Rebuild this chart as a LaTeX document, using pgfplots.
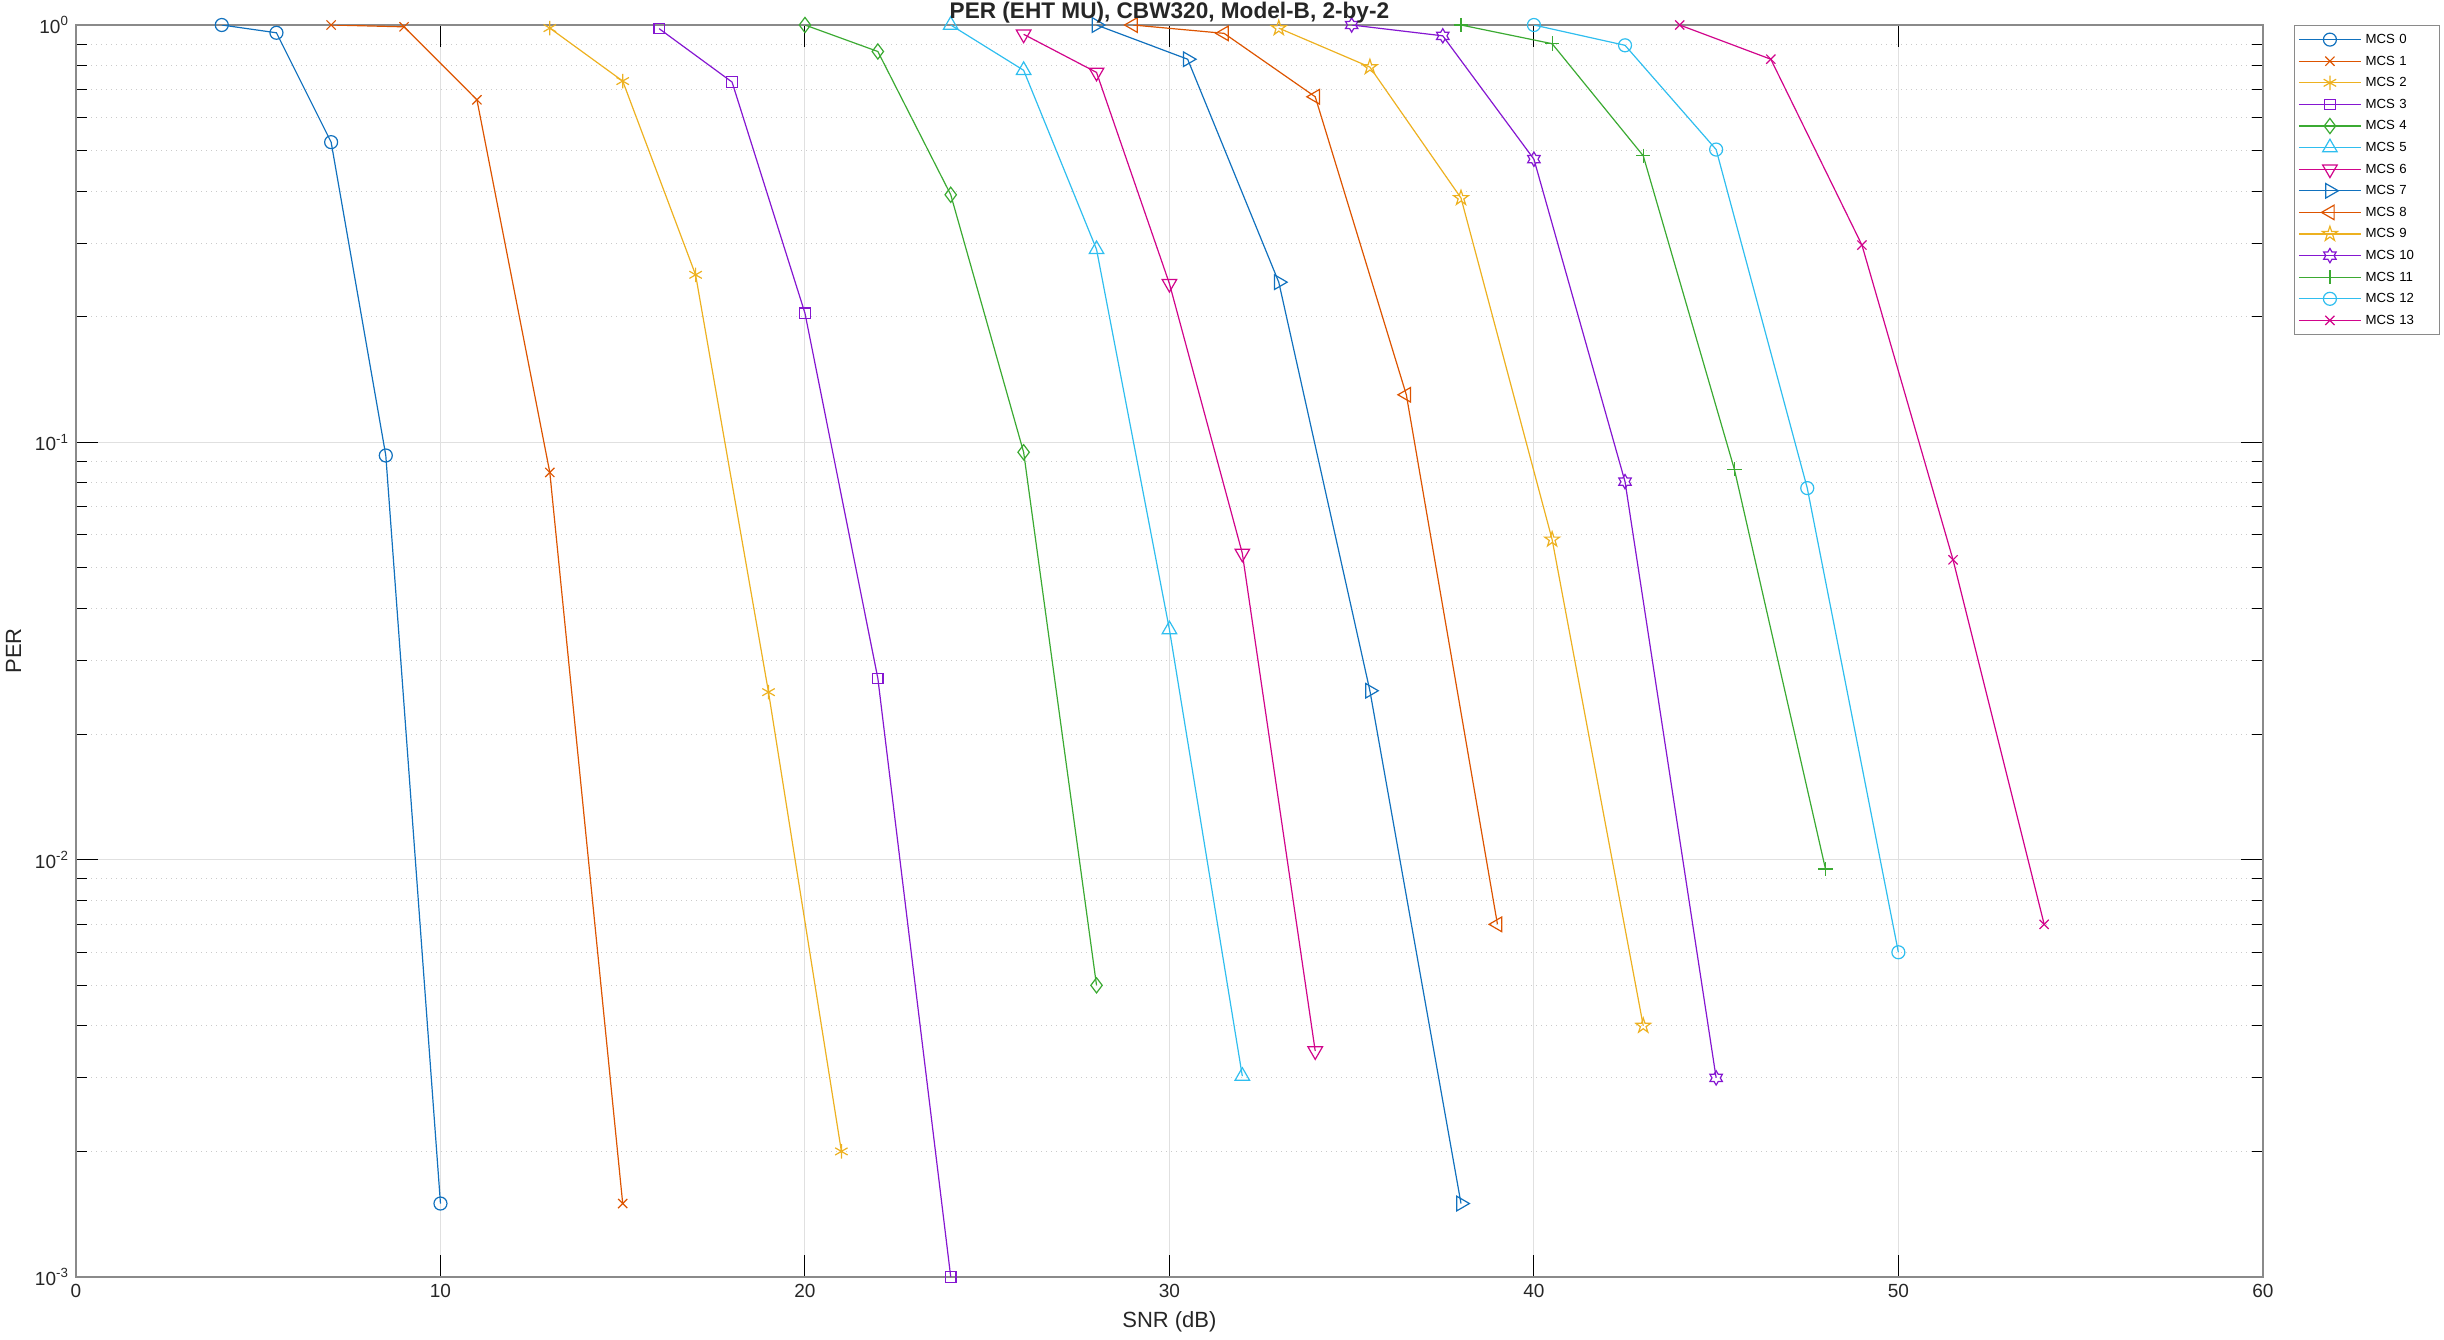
\documentclass[border=0pt]{standalone}
\usepackage{fontspec}
\setmainfont{Liberation Sans}
\usepackage{pgfplots}
\pgfplotsset{compat=1.18}

\definecolor{mc1}{HTML}{1171BE}
\definecolor{mc2}{HTML}{DD5400}
\definecolor{mc3}{HTML}{EDB120}
\definecolor{mc4}{HTML}{8516D1}
\definecolor{mc5}{HTML}{3BAA32}
\definecolor{mc6}{HTML}{2FBEEF}
\definecolor{mc7}{HTML}{D1048B}
\definecolor{boxgray}{HTML}{8A8A8A}
\definecolor{gridgray}{HTML}{E0E0E0}

% outline pentagram and hexagram, as in MATLAB
\pgfdeclareplotmark{pentagramo}{%
  \pgfpathmoveto{\pgfpointpolar{90}{1.2\pgfplotmarksize}}%
  \pgfpathlineto{\pgfpointpolar{126}{0.46\pgfplotmarksize}}%
  \pgfpathlineto{\pgfpointpolar{162}{1.2\pgfplotmarksize}}%
  \pgfpathlineto{\pgfpointpolar{198}{0.46\pgfplotmarksize}}%
  \pgfpathlineto{\pgfpointpolar{234}{1.2\pgfplotmarksize}}%
  \pgfpathlineto{\pgfpointpolar{270}{0.46\pgfplotmarksize}}%
  \pgfpathlineto{\pgfpointpolar{306}{1.2\pgfplotmarksize}}%
  \pgfpathlineto{\pgfpointpolar{342}{0.46\pgfplotmarksize}}%
  \pgfpathlineto{\pgfpointpolar{18}{1.2\pgfplotmarksize}}%
  \pgfpathlineto{\pgfpointpolar{54}{0.46\pgfplotmarksize}}%
  \pgfpathclose\pgfusepathqstroke}
\pgfdeclareplotmark{hexagramo}{%
  \pgfpathmoveto{\pgfpointpolar{90}{1.1\pgfplotmarksize}}%
  \pgfpathlineto{\pgfpointpolar{120}{0.64\pgfplotmarksize}}%
  \pgfpathlineto{\pgfpointpolar{150}{1.1\pgfplotmarksize}}%
  \pgfpathlineto{\pgfpointpolar{180}{0.64\pgfplotmarksize}}%
  \pgfpathlineto{\pgfpointpolar{210}{1.1\pgfplotmarksize}}%
  \pgfpathlineto{\pgfpointpolar{240}{0.64\pgfplotmarksize}}%
  \pgfpathlineto{\pgfpointpolar{270}{1.1\pgfplotmarksize}}%
  \pgfpathlineto{\pgfpointpolar{300}{0.64\pgfplotmarksize}}%
  \pgfpathlineto{\pgfpointpolar{330}{1.1\pgfplotmarksize}}%
  \pgfpathlineto{\pgfpointpolar{0}{0.64\pgfplotmarksize}}%
  \pgfpathlineto{\pgfpointpolar{30}{1.1\pgfplotmarksize}}%
  \pgfpathlineto{\pgfpointpolar{60}{0.64\pgfplotmarksize}}%
  \pgfpathclose\pgfusepathqstroke}

\pgfplotsset{
  per/.style={line width=0.6pt, mark size=3.25pt, mark options={solid, line width=0.6pt}},
}

\begin{document}
\begin{tikzpicture}
\path[use as bounding box] (-38pt,-31pt) rectangle (1184pt,638.5pt);
\begin{axis}[
    at={(0pt,0pt)}, anchor=south west,
    scale only axis,
    width=1093.5pt, height=626pt,
    xmin=0, xmax=60,
    ymode=log, ymin=1e-3, ymax=1,
    xtick={0,10,20,30,40,50,60},
    xticklabels={0,10,20,30,40,50,60},
    ytick={1e-3,1e-2,1e-1,1},
    yticklabels={10\textsuperscript{-3},10\textsuperscript{-2},10\textsuperscript{-1},10\textsuperscript{0}},
    tick align=inside,
    major tick length=11pt, minor tick length=5.5pt,
    every tick/.style={black, line width=0.5pt},
    axis line style={draw=boxgray, line width=1pt},
    xmajorgrids, ymajorgrids, yminorgrids,
    major grid style={draw=gridgray, line width=0.5pt},
    minor grid style={draw=gridgray!90!black, line width=0.5pt, dotted},
    ticklabel style={font=\fontsize{9.5}{10}\selectfont, text=black!85},
    xlabel={SNR (dB)}, ylabel={PER},
    label style={font=\fontsize{11}{12}\selectfont, text=black!85},
    title={PER (EHT MU), CBW320, Model-B, 2-by-2},
    title style={font=\bfseries\fontsize{11.3}{12}\selectfont, text=black!85, at={(0.5,1)}, anchor=south, yshift=-6pt, inner sep=0.6pt},
    legend style={at={(1.0142,1)}, anchor=north west, draw=boxgray, fill=white,
      font=\fontsize{6.6}{8}\selectfont, inner sep=2pt,
      nodes={inner ysep=1.8pt, text height=5.2pt, text depth=1.4pt, text width=33pt, align=left},
      row sep=0.6pt},
    legend cell align=left,
    legend image code/.code={\draw[mark repeat=2, mark phase=2, #1] plot coordinates {(0pt,0pt) (15.5pt,0pt) (31pt,0pt)};},
]
\addplot[per, mc1, mark=o] coordinates {(4,1.0)(5.5,0.958)(7,0.524)(8.5,0.093)(10,0.0015)};
\addlegendentry{MCS 0}
\addplot[per, mc2, mark=x] coordinates {(7,1.0)(9,0.99)(11,0.662)(13,0.0847)(15,0.0015)};
\addlegendentry{MCS 1}
\addplot[per, mc3, mark=asterisk, mark size=3.6pt] coordinates {(13,0.983)(15,0.734)(17,0.252)(19,0.0252)(21,0.002)};
\addlegendentry{MCS 2}
\addplot[per, mc4, mark=square, mark size=2.6pt] coordinates {(16,0.98)(18,0.73)(20,0.204)(22,0.0272)(24,0.001)};
\addlegendentry{MCS 3}
\addplot[per, mc5, mark=diamond, mark size=3.8pt] coordinates {(20,1.0)(22,0.864)(24,0.392)(26,0.0947)(28,0.005)};
\addlegendentry{MCS 4}
\addplot[per, mc6, mark=triangle, mark size=4.2pt] coordinates {(24,1.0)(26,0.779)(28,0.290)(30,0.0356)(32,0.00303)};
\addlegendentry{MCS 5}
\addplot[per, mc7, mark=triangle, mark size=4.2pt, mark options={rotate=180}] coordinates {(26,0.95)(28,0.77)(30,0.240)(32,0.0542)(34,0.00348)};
\addlegendentry{MCS 6}
\addplot[per, mc1, mark=triangle, mark size=4.2pt, mark options={rotate=-90}] coordinates {(28,1.0)(30.5,0.828)(33,0.242)(35.5,0.0254)(38,0.0015)};
\addlegendentry{MCS 7}
\addplot[per, mc2, mark=triangle, mark size=4.2pt, mark options={rotate=90}] coordinates {(29,1.0)(31.5,0.955)(34,0.673)(36.5,0.130)(39,0.0070)};
\addlegendentry{MCS 8}
\addplot[per, mc3, mark=pentagramo] coordinates {(33,0.983)(35.5,0.793)(38,0.385)(40.5,0.0585)(43,0.0040)};
\addlegendentry{MCS 9}
\addplot[per, mc4, mark=hexagramo] coordinates {(35,1.0)(37.5,0.942)(40,0.477)(42.5,0.0805)(45,0.0030)};
\addlegendentry{MCS 10}
\addplot[per, mc5, mark=+, mark size=3.6pt] coordinates {(38,1.0)(40.5,0.902)(43,0.486)(45.5,0.0862)(48,0.0095)};
\addlegendentry{MCS 11}
\addplot[per, mc6, mark=o] coordinates {(40,1.0)(42.5,0.894)(45,0.503)(47.5,0.0777)(50,0.0060)};
\addlegendentry{MCS 12}
\addplot[per, mc7, mark=x] coordinates {(44,1.0)(46.5,0.828)(49,0.297)(51.5,0.0523)(54,0.0070)};
\addlegendentry{MCS 13}
\end{axis}
\end{tikzpicture}
\end{document}
